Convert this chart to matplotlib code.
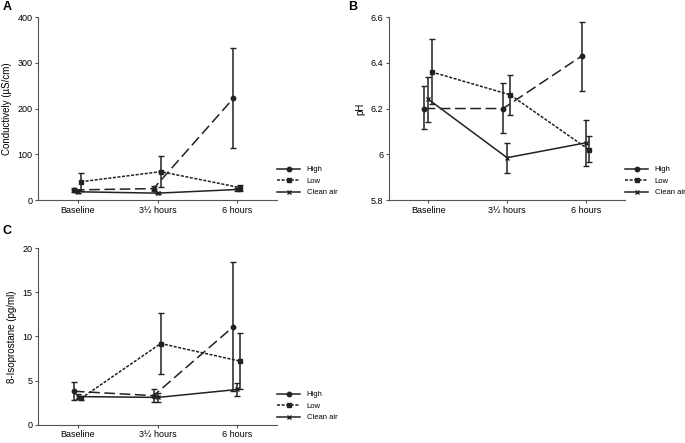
import matplotlib.pyplot as plt
from matplotlib.lines import Line2D
import numpy as np

plt.rcParams['font.family'] = ['Liberation Sans', 'DejaVu Sans']

times = ['Baseline', '3½ hours', '6 hours']
groups = ['High', 'Low', 'Clean air']

# A: conductivity (mean, lower, upper)
cond_high = [22, 25, 222]
cond_high_lo = [18, 20, 113]
cond_high_hi = [26, 30, 333]
cond_low = [40, 62, 27]
cond_low_lo = [20, 28, 20]
cond_low_hi = [60, 97, 33]
cond_clean = [18, 15, 23]
cond_clean_lo = [15, 13, 20]
cond_clean_hi = [21, 17, 26]

# B: pH
ph_high = [6.20, 6.20, 6.43]
ph_high_lo = [6.11, 6.095, 6.275]
ph_high_hi = [6.30, 6.31, 6.58]
ph_low = [6.36, 6.26, 6.02]
ph_low_lo = [6.22, 6.17, 5.965]
ph_low_hi = [6.505, 6.345, 6.08]
ph_clean = [6.24, 5.985, 6.05]
ph_clean_lo = [6.14, 5.92, 5.95]
ph_clean_hi = [6.34, 6.05, 6.15]

# C: 8-isoprostane
iso_high = [3.8, 3.3, 11.1]
iso_high_lo = [2.8, 2.6, 3.8]
iso_high_hi = [4.9, 4.1, 18.4]
iso_low = [3.0, 9.2, 7.2]
iso_low_lo = [2.8, 5.8, 4.0]
iso_low_hi = [3.3, 12.6, 10.4]
iso_clean = [3.2, 3.1, 4.0]
iso_clean_lo = [2.9, 2.6, 3.3]
iso_clean_hi = [3.5, 3.6, 4.7]

# styles per group
styles = {
    'High': dict(ls=(0, (7, 3)), marker='o', ms=3.2, dx=-0.05),
    'Low': dict(ls=(0, (2, 1)), marker='s', ms=3.2, dx=0.04),
    'Clean air': dict(ls='-', marker='x', ms=3.2, dx=0.0),
}
legend_ls = {'High': '-', 'Low': (0, (2, 1)), 'Clean air': '-'}
col = '#222222'


def panel(ax, series, ylim, yticks, yticklabels, ylabel):
    x = np.arange(1, len(times) + 1)
    for name, (m, lo, hi) in zip(groups, series):
        st = styles[name]
        m = np.array(m); lo = np.array(lo); hi = np.array(hi)
        ax.errorbar(x + st['dx'], m, yerr=[m - lo, hi - m], color=col,
                    ls=st['ls'], marker=st['marker'], ms=st['ms'], mew=1,
                    lw=1.1, capsize=2.5, elinewidth=1.1, capthick=1.1)
    ax.set_xlim(0.5, 3.5)
    ax.set_ylim(*ylim)
    ax.set_xticks(x)
    ax.set_xticklabels(times)
    ax.set_yticks(yticks)
    ax.set_yticklabels(yticklabels)
    ax.set_ylabel(ylabel, fontsize=7, labelpad=4)
    for s in ['top', 'right']:
        ax.spines[s].set_visible(False)
    for s in ['left', 'bottom']:
        ax.spines[s].set_color('#555555')
        ax.spines[s].set_linewidth(0.8)
    ax.tick_params(labelsize=6.5, length=2.5, width=0.8, color='#555555', pad=1.5)
    handles = [Line2D([], [], color=col, lw=1.1, ls=legend_ls[g],
                      marker=styles[g]['marker'], ms=3.2, mew=1)
               for g in groups]
    ax.legend(handles, groups, loc='lower left', bbox_to_anchor=(1.0, 0.02),
              frameon=False, fontsize=5.5, handlelength=3.0, handletextpad=0.9,
              labelspacing=0.55, borderaxespad=0, borderpad=0)


fig = plt.figure(figsize=(6.85, 4.43), dpi=100)
axA = fig.add_axes([0.0555, 0.5485, 0.349, 0.413])
axB = fig.add_axes([0.568, 0.5485, 0.3445, 0.413])
axC = fig.add_axes([0.0555, 0.041, 0.349, 0.399])

panel(axA, [(cond_high, cond_high_lo, cond_high_hi),
            (cond_low, cond_low_lo, cond_low_hi),
            (cond_clean, cond_clean_lo, cond_clean_hi)],
      (0, 400), [0, 100, 200, 300, 400], ['0', '100', '200', '300', '400'],
      'Conductively (µS/cm)')
panel(axB, [(ph_high, ph_high_lo, ph_high_hi),
            (ph_low, ph_low_lo, ph_low_hi),
            (ph_clean, ph_clean_lo, ph_clean_hi)],
      (5.8, 6.6), [5.8, 6.0, 6.2, 6.4, 6.6], ['5.8', '6', '6.2', '6.4', '6.6'],
      'pH')
panel(axC, [(iso_high, iso_high_lo, iso_high_hi),
            (iso_low, iso_low_lo, iso_low_hi),
            (iso_clean, iso_clean_lo, iso_clean_hi)],
      (0, 20), [0, 5, 10, 15, 20], ['0', '5', '10', '15', '20'],
      '8-Isoprostane (pg/ml)')

fig.text(0.004, 0.997, 'A', fontsize=9, fontweight='bold', va='top', ha='left')
fig.text(0.508, 0.997, 'B', fontsize=9, fontweight='bold', va='top', ha='left')
fig.text(0.004, 0.492, 'C', fontsize=9, fontweight='bold', va='top', ha='left')

fig.savefig('out.png', dpi=100)
